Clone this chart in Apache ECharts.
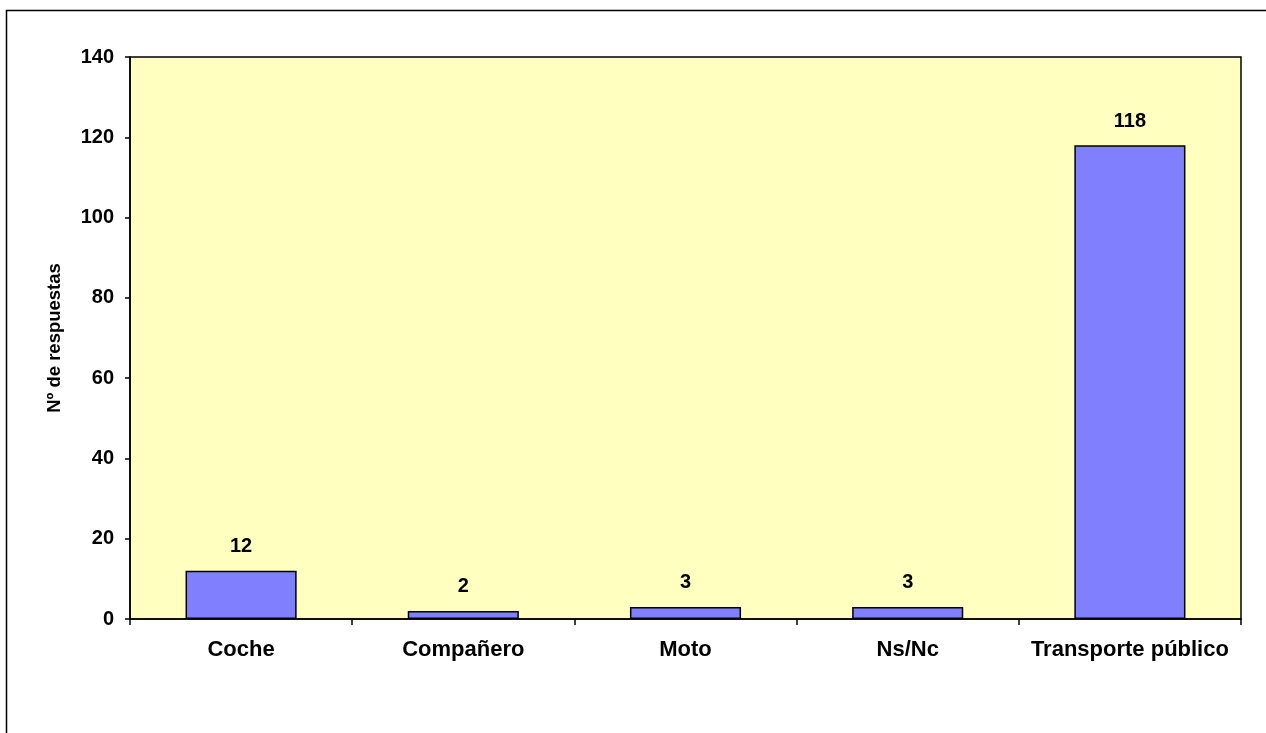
<!DOCTYPE html>
<html>
<head>
<meta charset="utf-8">
<script src="https://cdn.jsdelivr.net/npm/echarts@6/dist/echarts.min.js"></script>
<style>html,body{margin:0;padding:0;background:#fff}#c{width:1266px;height:733px}</style>
</head>
<body>
<div id="c"></div>
<script>
const categories = ["Coche", "Compañero", "Moto", "Ns/Nc", "Transporte público"];
const values = [12, 2, 3, 3, 118];
const yAxisName = "Nº de respuestas";

const chart = echarts.init(document.getElementById('c'), null, {renderer: 'canvas'});
const font = 'Arial, "Liberation Sans", sans-serif';
chart.setOption({
  animation: false,
  backgroundColor: '#ffffff',
  graphic: [{
    type: 'rect', silent: true, z: 100,
    shape: {x: 6.5, y: 10.5, width: 1400, height: 900},
    style: {fill: null, stroke: '#000', lineWidth: 1.5}
  }],
  grid: {
    left: 130, right: 25, top: 57, bottom: 114,
    show: true, backgroundColor: '#FFFFC0', borderColor: '#000', borderWidth: 1.5
  },
  xAxis: {
    type: 'category',
    data: categories,
    axisLine: {lineStyle: {color: '#000', width: 1.5}},
    axisTick: {show: true, alignWithLabel: false, interval: 0, length: 6, lineStyle: {color: '#000', width: 1.5}},
    axisLabel: {interval: 0, color: '#000', fontFamily: font, fontWeight: 'bold', fontSize: 22, margin: 20}
  },
  yAxis: {
    type: 'value',
    min: 0, max: 140, interval: 20,
    name: yAxisName,
    nameLocation: 'middle',
    nameRotate: 90,
    nameGap: 66,
    nameTextStyle: {color: '#000', fontFamily: font, fontWeight: 'bold', fontSize: 18.5},
    axisLine: {show: true, lineStyle: {color: '#000', width: 1.5}},
    axisTick: {show: true, length: 5, lineStyle: {color: '#000', width: 1.5}},
    axisLabel: {color: '#000', fontFamily: font, fontWeight: 'bold', fontSize: 20, margin: 16},
    splitLine: {show: false}
  },
  series: [{
    type: 'bar',
    data: values,
    barWidth: '50%',
    itemStyle: {color: '#8080FF', borderColor: '#000', borderWidth: 1.5},
    label: {
      show: true, position: 'top', distance: 14,
      color: '#000', fontFamily: font, fontWeight: 'bold', fontSize: 20
    }
  }]
});
</script>
</body>
</html>
